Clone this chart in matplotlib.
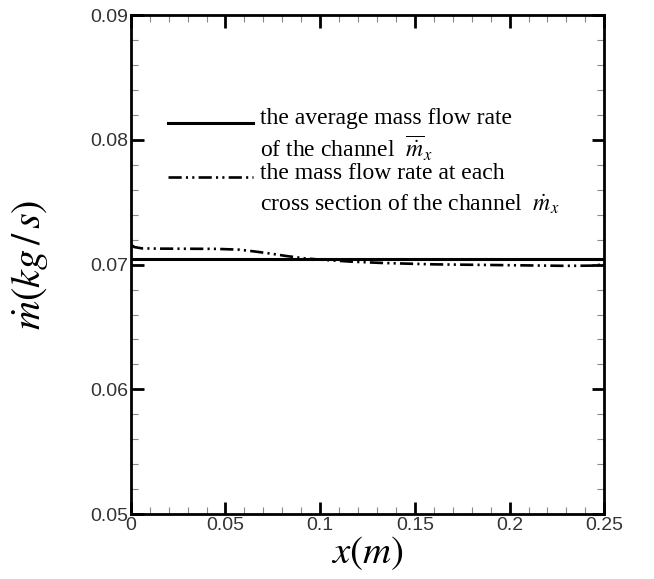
import numpy as np
import matplotlib
matplotlib.use('Agg')
import matplotlib.pyplot as plt
from matplotlib.ticker import MultipleLocator, FormatStrFormatter

plt.rcParams['mathtext.fontset'] = 'stix'

# average mass flow rate of the channel
x_avg = [0.0, 0.25]
m_avg = [0.07045, 0.07045]

# mass flow rate at each cross section
x_sec = [0.0, 0.002, 0.006, 0.015, 0.03, 0.045, 0.057, 0.065, 0.074, 0.082,
         0.092, 0.1, 0.116, 0.133, 0.16, 0.195, 0.23, 0.245, 0.25]
m_sec = [0.07160, 0.07140, 0.07130, 0.07128, 0.07127, 0.07126, 0.07120, 0.07106,
         0.07088, 0.07069, 0.07050, 0.07040, 0.07024, 0.07013, 0.07002, 0.06996,
         0.06990, 0.06992, 0.07005]

fig = plt.figure(figsize=(6.54, 5.79), dpi=100)
ax = fig.add_axes([0.2, 0.112, 0.724, 0.862])

dashdot = (0, (5, 1.6, 0.8, 1.6, 0.8, 1.6))
ax.plot(x_avg, m_avg, color='black', lw=2.2)
ax.plot(x_sec, m_sec, color='black', lw=1.9, linestyle=dashdot)

ax.set_xlim(0, 0.25)
ax.set_ylim(0.05, 0.09)
ax.xaxis.set_major_locator(MultipleLocator(0.05))
ax.xaxis.set_minor_locator(MultipleLocator(0.01))
ax.yaxis.set_major_locator(MultipleLocator(0.01))
ax.yaxis.set_minor_locator(MultipleLocator(0.002))
ax.xaxis.set_major_formatter(plt.FuncFormatter(lambda v, p: ('%g' % round(v, 3))))
ax.yaxis.set_major_formatter(FormatStrFormatter('%.2f'))
ax.tick_params(which='both', direction='in', top=True, right=True,
               labelsize=14, labelcolor='#333333')
ax.tick_params(axis='x', pad=2)
ax.tick_params(axis='y', pad=2)
ax.tick_params(which='major', length=9, width=2)
ax.tick_params(which='minor', length=5, width=0.8, color='#888888')
for lab in ax.get_xticklabels() + ax.get_yticklabels():
    lab.set_fontfamily('Liberation Sans')
for s in ax.spines.values():
    s.set_linewidth(2)

ax.set_xlabel(r'$x(m)$', fontsize=28, labelpad=0)
ax.set_ylabel(r'$\dot{m}(kg\,/\,s)$', fontsize=29)
ax.yaxis.set_label_coords(-0.17, 0.5)

# legend drawn by hand (samples beside two-line labels)
tfont = dict(family='Liberation Serif', fontsize=17, va='center', ha='left')
ax.plot([0.078, 0.258], [0.784, 0.784], transform=ax.transAxes, color='black', lw=2.2)
ax.text(0.273, 0.792, 'the average mass flow rate', transform=ax.transAxes, **tfont)
ax.text(0.273, 0.733, r'of the channel  $\overline{\dot{m}}_x$', transform=ax.transAxes, **tfont)
ax.plot([0.078, 0.258], [0.676, 0.676], transform=ax.transAxes, color='black', lw=1.9,
        linestyle=dashdot)
ax.text(0.273, 0.683, 'the mass flow rate at each', transform=ax.transAxes, **tfont)
ax.text(0.273, 0.620, r'cross section of the channel  $\dot{m}_x$', transform=ax.transAxes, **tfont)

fig.savefig('out.png', dpi=100)
